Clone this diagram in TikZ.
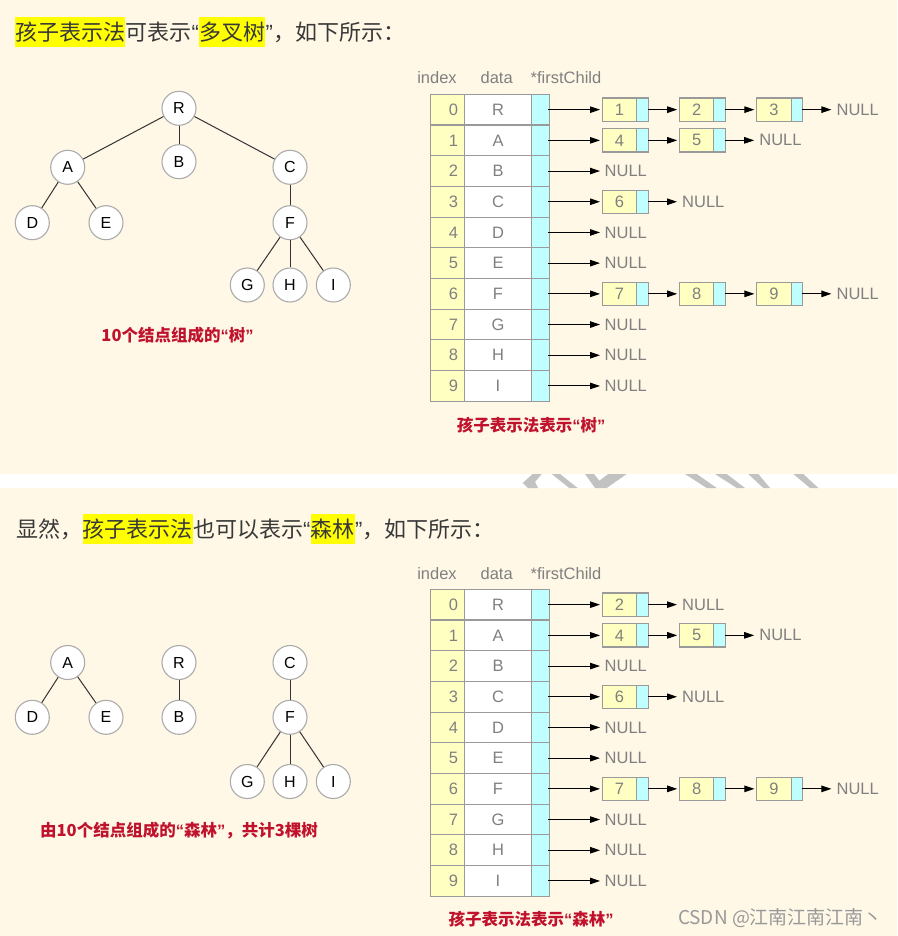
\documentclass[tikz,border=0pt]{standalone}
\usepackage{fontspec}
\setmainfont{Liberation Sans}
\newfontfamily\cjk{Noto Sans CJK SC}
\newfontfamily\latf{Liberation Sans}
\usetikzlibrary{arrows.meta,calc}
\definecolor{bg}{HTML}{FFF8E7}
\definecolor{hl}{HTML}{FFFF00}
\definecolor{cellY}{HTML}{FFFFC2}
\definecolor{cellC}{HTML}{C0FFFF}
\definecolor{bord}{HTML}{9A9A9A}
\definecolor{txtg}{HTML}{808080}
\definecolor{capred}{HTML}{C0122C}
\definecolor{titlec}{HTML}{383838}
\definecolor{circg}{HTML}{ABABAB}
\definecolor{edgec}{HTML}{333333}
\definecolor{wmg}{HTML}{C2C2C2}
\newcommand\myqo{{\latf “}}
\newcommand\myqc{{\latf ”}}
\tikzset{
  ttl/.style={inner xsep=0pt, inner ysep=0pt, minimum height=30pt, text height=19.4pt, text depth=2.6pt,
    anchor=west, font=\fontsize{22}{26}\cjk, text=titlec},
  hlt/.style={ttl, fill=hl},
  tn/.style={circle, draw=circg, fill=white, minimum size=34pt, inner sep=0pt, line width=1.1pt,
    font=\fontsize{16}{16}\selectfont},
  te/.style={draw=edgec, line width=1pt},
  captext/.style={font=\fontsize{16.5}{17}\cjk\bfseries, text=capred, inner sep=0pt},
  hdr/.style={font=\fontsize{16.5}{17}\selectfont, text=txtg, anchor=base, inner sep=0pt},
  cellbase/.style={draw=bord, line width=1.1pt, inner sep=0pt, outer sep=0pt, minimum height=30.7pt,
    font=\fontsize{16.5}{17}\selectfont, text=txtg},
  idxc/.style={cellbase, fill=cellY, minimum width=33.6pt},
  idxt/.style={font=\fontsize{16.5}{17}\selectfont, text=txtg, anchor=east, inner sep=0pt},
  datc/.style={cellbase, fill=white, minimum width=67.4pt},
  ptrc/.style={cellbase, fill=cellC, minimum width=17.6pt},
  lboxY/.style={draw=bord, line width=1.1pt, fill=cellY, minimum width=34.4pt, minimum height=23.3pt,
    inner sep=0pt, outer sep=0pt, anchor=west, font=\fontsize{16.5}{17}\selectfont, text=txtg},
  lboxC/.style={draw=bord, line width=1.1pt, fill=cellC, minimum width=11.8pt, minimum height=23.3pt,
    inner sep=0pt, outer sep=0pt, anchor=west},
  nullt/.style={font=\fontsize{16.5}{17}\selectfont, text=txtg, anchor=west, inner sep=0pt},
  arr/.style={-{Triangle[length=10pt,width=6.5pt]}, line width=1pt, black},
}
% table row: prefix, row, data, top
\newcommand\tabrow[4]{%
  \pgfmathsetmacro\ry{#4+30.7*(#2+0.5)}%
  \node[idxc] (#1i#2) at (447.5,\ry) {};
  \node[idxt] (#1n#2) at ([xshift=-6pt]#1i#2.east) {#2};
  \node[datc] (#1d#2) at (498,\ry) {#3};
  \node[ptrc] (#1p#2) at (540.5,\ry) {};
}
% row pointing to NULL directly: prefix,row,top
\newcommand\nokids[3]{%
  \pgfmathsetmacro\ry{#3+30.7*(#2+0.5)}%
  \node[nullt] (#1null#2) at (604.5,\ry) {NULL};
  \draw[arr, shorten >=4.5pt] ([xshift=-1pt]#1p#2.east) -- (#1null#2.west);
}
% row with child list: prefix,row,list,top
\newcommand\kids[4]{%
  \pgfmathsetmacro\ry{#4+30.7*(#2+0.5)}%
  \xdef\prevnode{#1p#2}%
  \foreach \k [count=\n] in {#3} {
    \pgfmathsetmacro\bx{602.3+77.2*(\n-1)}
    \node[lboxY] (#1y#2-\n) at (\bx,\ry) {\k};
    \node[lboxC] (#1c#2-\n) at (#1y#2-\n.east) {};
    \draw[arr, shorten >=2.3pt] ([xshift=-1pt]\prevnode.east) -- (#1y#2-\n.west);
    \xdef\prevnode{#1c#2-\n}
  }
  \node[nullt] (#1null#2) at ([xshift=33.5pt]\prevnode.east) {NULL};
  \draw[arr, shorten >=5pt] ([xshift=-1pt]\prevnode.east) -- (#1null#2.west);
}
\begin{document}
\begin{tikzpicture}[x=1pt,y=-1pt]
\fill[bg] (0,0) rectangle (897,936);
\useasboundingbox (0,0) rectangle (897,936);
% separator band with watermark fragments
\fill[white] (0,474) rectangle (897,488);
\fill[wmg] (522.7,483) -- (532.7,474) -- (541.7,474) -- (535,482) -- (538,488) -- (528,488) -- cycle;
\fill[wmg] (551.7,474) -- (560,474) -- (577.7,488) -- (569.3,488) -- cycle;
\fill[wmg] (585,474) -- (594,474) -- (599.3,480.7) -- (608.3,474) -- (626.7,474) -- (606.7,488) -- (595,488) -- cycle;
\fill[wmg] (685,474) -- (696.7,474) -- (716.7,488) -- (706.7,488) -- cycle;
\fill[wmg] (715,474) -- (726.7,474) -- (745,488) -- (736.7,488) -- cycle;
\fill[wmg] (748.3,474) -- (758.3,474) -- (770,488) -- (763.3,488) -- cycle;
\fill[wmg] (793.3,474) -- (803.3,474) -- (818.3,488) -- (810,488) -- cycle;

% ---------- title 1 ----------
\node[hlt] (t1a) at (15,31.7) {孩子表示法};
\node[ttl] (t1b) at (t1a.east) {可表示\myqo};
\node[hlt] (t1c) at (t1b.east) {多叉树};
\node[ttl] (t1d) at (t1c.east) {\myqc，如下所示：};

% ---------- tree 1 ----------
\node[tn] (R1) at (179,108.3) {R};
\node[tn] (A1) at (67.7,167.3) {A};
\node[tn] (B1) at (179,161.7) {B};
\node[tn] (C1) at (290,167.3) {C};
\node[tn] (D1) at (32.3,222.7) {D};
\node[tn] (E1) at (106,222.7) {E};
\node[tn] (F1) at (290,222.7) {F};
\node[tn] (G1) at (247.3,285) {G};
\node[tn] (H1) at (290,285) {H};
\node[tn] (I1) at (333.3,285) {I};
\foreach \a/\b in {R1/A1,R1/B1,R1/C1,A1/D1,A1/E1,C1/F1,F1/G1,F1/H1,F1/I1}
  \draw[te] (\a) -- (\b);
\node[captext] (cap1) at (177.5,335.7) {10个结点组成的\myqo 树\myqc};

% ---------- table 1 ----------
\node[hdr] (h1i) at (437,84) {index};
\node[hdr] (h1d) at (496.7,84) {data};
\node[hdr] (h1p) at (566,84) {*firstChild};
\tabrow{A}{0}{R}{94.3}
\tabrow{A}{1}{A}{94.3}
\tabrow{A}{2}{B}{94.3}
\tabrow{A}{3}{C}{94.3}
\tabrow{A}{4}{D}{94.3}
\tabrow{A}{5}{E}{94.3}
\tabrow{A}{6}{F}{94.3}
\tabrow{A}{7}{G}{94.3}
\tabrow{A}{8}{H}{94.3}
\tabrow{A}{9}{I}{94.3}
\kids{A}{0}{1,2,3}{94.3}
\kids{A}{1}{4,5}{94.3}
\nokids{A}{2}{94.3}
\kids{A}{3}{6}{94.3}
\nokids{A}{4}{94.3}
\nokids{A}{5}{94.3}
\kids{A}{6}{7,8,9}{94.3}
\nokids{A}{7}{94.3}
\nokids{A}{8}{94.3}
\nokids{A}{9}{94.3}
\node[captext] (cap3) at (531,425) {孩子表示法表示\myqo 树\myqc};

% ---------- title 2 ----------
\node[ttl] (t2a) at (16,528.7) {显然，};
\node[hlt] (t2b) at (t2a.east) {孩子表示法};
\node[ttl] (t2c) at (t2b.east) {也可以表示\myqo};
\node[hlt] (t2d) at (t2c.east) {森林};
\node[ttl] (t2e) at (t2d.east) {\myqc，如下所示：};

% ---------- forest ----------
\node[tn] (A2) at (67.7,662.5) {A};
\node[tn] (D2) at (32.3,717.3) {D};
\node[tn] (E2) at (106,717.3) {E};
\node[tn] (R2) at (179,662.5) {R};
\node[tn] (B2) at (179,717.3) {B};
\node[tn] (C2) at (290,662.5) {C};
\node[tn] (F2) at (290,717.3) {F};
\node[tn] (G2) at (247.3,781.5) {G};
\node[tn] (H2) at (290,781.5) {H};
\node[tn] (I2) at (333.3,781.5) {I};
\foreach \a/\b in {A2/D2,A2/E2,R2/B2,C2/F2,F2/G2,F2/H2,F2/I2}
  \draw[te] (\a) -- (\b);
\node[captext] (cap2) at (179,830.7) {由10个结点组成的\myqo 森林\myqc，共计3棵树};

% ---------- table 2 ----------
\node[hdr] (h2i) at (437,579) {index};
\node[hdr] (h2d) at (496.7,579) {data};
\node[hdr] (h2p) at (566,579) {*firstChild};
\tabrow{B}{0}{R}{589.3}
\tabrow{B}{1}{A}{589.3}
\tabrow{B}{2}{B}{589.3}
\tabrow{B}{3}{C}{589.3}
\tabrow{B}{4}{D}{589.3}
\tabrow{B}{5}{E}{589.3}
\tabrow{B}{6}{F}{589.3}
\tabrow{B}{7}{G}{589.3}
\tabrow{B}{8}{H}{589.3}
\tabrow{B}{9}{I}{589.3}
\kids{B}{0}{2}{589.3}
\kids{B}{1}{4,5}{589.3}
\nokids{B}{2}{589.3}
\kids{B}{3}{6}{589.3}
\nokids{B}{4}{589.3}
\nokids{B}{5}{589.3}
\kids{B}{6}{7,8,9}{589.3}
\nokids{B}{7}{589.3}
\nokids{B}{8}{589.3}
\nokids{B}{9}{589.3}
\node[captext] (cap4) at (531,919) {孩子表示法表示\myqo 森林\myqc};

% ---------- watermark ----------
\node[font=\fontsize{19}{19}\cjk, text=black!40, inner sep=0pt] (wm) at (780.5,918) {CSDN @江南江南江南丶};
\end{tikzpicture}
\end{document}
